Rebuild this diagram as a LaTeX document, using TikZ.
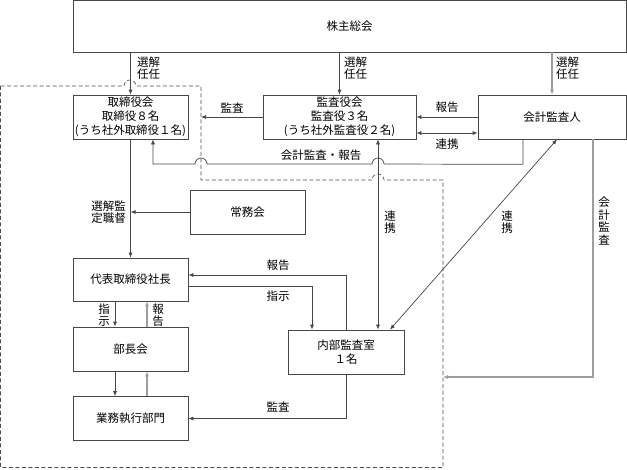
\documentclass[tikz,border=0pt]{standalone}
\usepackage{fontspec}
\setmainfont{Noto Sans CJK JP}
\usetikzlibrary{arrows.meta,positioning}

\begin{document}
\begin{tikzpicture}[x=1pt,y=-1pt,node distance=69.5pt,
  conn/.style={draw=black!72,line width=0.7pt},
  box/.style={conn,rectangle,minimum width=115pt,minimum height=44pt,inner sep=0pt,align=center,font=\fontsize{11.5}{14}\selectfont},
  lab/.style={font=\fontsize{11.5}{12.5}\selectfont,align=center,inner sep=0pt},
  arr/.style={conn,-{Latex[length=5pt,width=4pt]}},
  dbl/.style={conn,{Latex[length=5pt,width=4pt]}-{Latex[length=5pt,width=4pt]}},
  lite/.style={draw=black!38,line width=1.3pt},
  frame/.style={draw=black!70,dash pattern=on 4pt off 2.5pt,line width=0.6pt}]
\useasboundingbox (0,0) rectangle (627,469);
\node[box,minimum width=553pt,minimum height=51.5pt] (meeting) at (349.5,26.25) {株主総会};
\node[box] (board) at (130.5,117) {取締役会\\取締役８名\\(うち社外取締役１名)};
\node[box,minimum width=153pt] (kansa) at (339.5,117) {監査役会\\監査役３名\\(うち社外監査役２名)};
\node[box,minimum width=148pt] (auditor) at (552,117) {会計監査人};
\node[box] (jomu) at (247.5,212) {常務会};
\node[box,minimum height=43pt] (ceo) at (130.5,279.5) {代表取締役社長};
\node[box] (bucho) [below of=ceo] {部長会};
\node[box] (gyomu) [below of=bucho] {業務執行部門};
\node[box,minimum width=116pt] (naibu) at (346,352) {内部監査室\\１名};
% dashed frame round the company
\coordinate (fN) at (201,86);
\coordinate (fE) at (443,377);
\draw[frame] (0.5,86) -- (124,86) arc[start angle=180,end angle=360,radius=6] -- (fN)
  -- (201,180) -- (372,180) arc[start angle=180,end angle=360,radius=6]
  -- (443,180) -- (443,467.5) -- (0.5,467.5) -- cycle;
% shareholders
\draw[arr] (meeting.south -| board.north) -- (board.north);
\draw[arr] (meeting.south -| kansa.north) -- (kansa.north);
\draw[arr,lite] (meeting.south -| auditor.north) -- (auditor.north);
\node[lab,anchor=west] at (137,68) {選解\\任任};
\node[lab,anchor=west] at (344,68) {選解\\任任};
\node[lab,anchor=west] at (556,68) {選解\\任任};
% audit board
\draw[arr] (kansa.west) -- (kansa.west -| fN);
\node[lab] at (232,108) {監査};
\draw[arr] (auditor.west) -- (kansa.east);
\node[lab] at (447,107) {報告};
\draw[dbl] ([yshift=-16pt]kansa.east) -- ([yshift=-16pt]auditor.west);
\node[lab] at (447,144) {連携};
\draw[arr] ([xshift=-29pt]auditor.south) -- ++(0,25) -- (384,164)
  arc[start angle=0,end angle=-180,radius=6] -- (207,164)
  arc[start angle=0,end angle=-180,radius=6] -- (153,164) -- ([xshift=22.5pt]board.south);
\node[lab] at (321,155) {会計監査・報告};
% board to president
\draw[arr] (board.south) -- (ceo.north);
\draw[arr] (jomu.west) -- (jomu.west -| board.south);
\node[lab,anchor=east] at (126,212) {選解監\\定職督};
% internal audit
\draw[dbl] ([xshift=32pt]naibu.north) -- ([xshift=32pt]naibu.north |- kansa.south);
\node[lab] at (390,222) {連\\携};
\draw[dbl] ([xshift=44pt]naibu.north) -- ([xshift=5pt]auditor.south);
\node[lab] at (507,222) {連\\携};
\draw[arr,lite] ([xshift=41pt]auditor.south) |- (fE);
\node[lab] at (604,221) {会\\計\\監\\査};
\draw[arr] (naibu.north) |- ([yshift=4.5pt]ceo.east);
\node[lab] at (278,265) {報告};
\draw[arr] ([yshift=-6.5pt]ceo.east) -| ([xshift=-34pt]naibu.north);
\node[lab] at (278,296) {指示};
\draw[arr] (naibu.south) |- (gyomu.east);
\node[lab] at (278,407) {監査};
% president, managers, divisions
\draw[arr] ([xshift=-15.5pt]ceo.south) -- ([xshift=-15.5pt]bucho.north);
\draw[arr,lite] ([xshift=16.5pt]bucho.north) -- ([xshift=16.5pt]ceo.south);
\node[lab] at (104,315) {指\\示};
\node[lab] at (158,315) {報\\告};
\draw[arr] ([xshift=-15.5pt]bucho.south) -- ([xshift=-15.5pt]gyomu.north);
\draw[arr,lite] ([xshift=16.5pt]gyomu.north) -- ([xshift=16.5pt]bucho.south);
\end{tikzpicture}
\end{document}
